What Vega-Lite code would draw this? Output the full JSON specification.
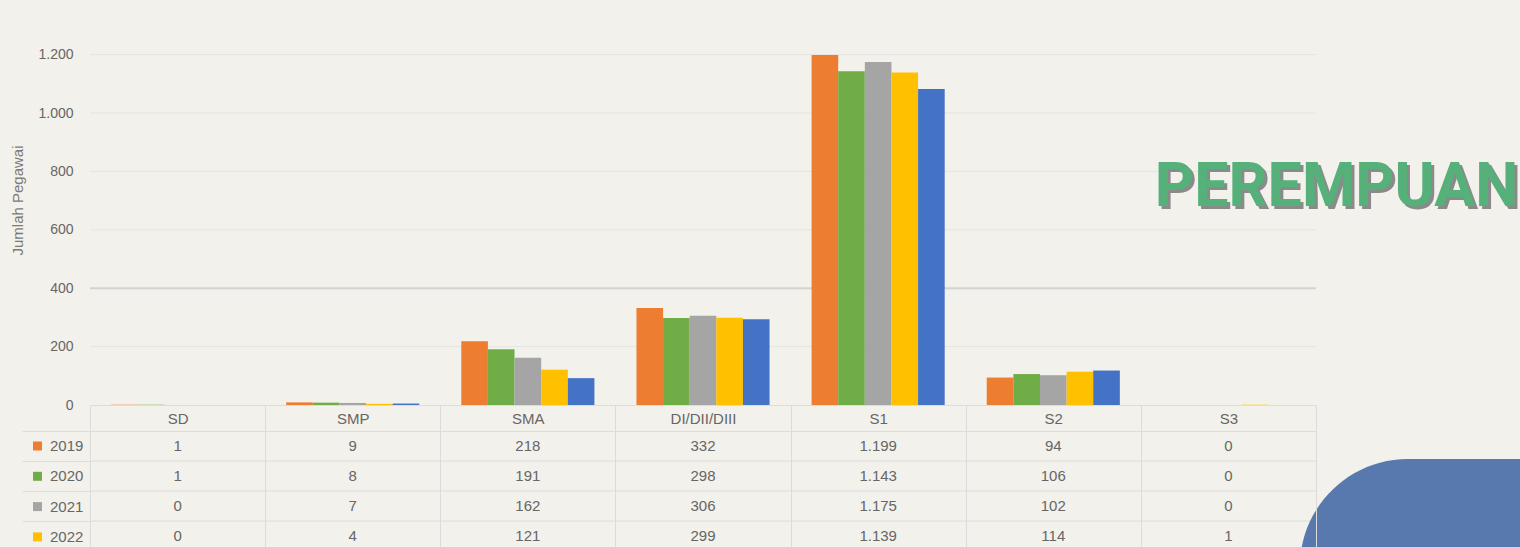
{
  "$schema": "https://vega.github.io/schema/vega-lite/v6.json",
  "background": "#f3f1eb",
  "padding": {"left": 10, "top": 5, "right": 0, "bottom": 0},
  "bounds": "flush",
  "spacing": 26,
  "config": {
    "font": "Liberation Sans",
    "view": {"stroke": null},
    "locale": {"number": {"decimal": ",", "thousands": ".", "grouping": [3], "currency": ["Rp", ""]}}
  },
  "datasets": {
    "edu": [
      {"cat": "SD", "year": "2019", "value": 1},
      {"cat": "SD", "year": "2020", "value": 1},
      {"cat": "SD", "year": "2021", "value": 0},
      {"cat": "SD", "year": "2022", "value": 0},
      {"cat": "SD", "year": "2023", "value": 0},
      {"cat": "SMP", "year": "2019", "value": 9},
      {"cat": "SMP", "year": "2020", "value": 8},
      {"cat": "SMP", "year": "2021", "value": 7},
      {"cat": "SMP", "year": "2022", "value": 4},
      {"cat": "SMP", "year": "2023", "value": 5},
      {"cat": "SMA", "year": "2019", "value": 218},
      {"cat": "SMA", "year": "2020", "value": 191},
      {"cat": "SMA", "year": "2021", "value": 162},
      {"cat": "SMA", "year": "2022", "value": 121},
      {"cat": "SMA", "year": "2023", "value": 92},
      {"cat": "DI/DII/DIII", "year": "2019", "value": 332},
      {"cat": "DI/DII/DIII", "year": "2020", "value": 298},
      {"cat": "DI/DII/DIII", "year": "2021", "value": 306},
      {"cat": "DI/DII/DIII", "year": "2022", "value": 299},
      {"cat": "DI/DII/DIII", "year": "2023", "value": 294},
      {"cat": "S1", "year": "2019", "value": 1199},
      {"cat": "S1", "year": "2020", "value": 1143},
      {"cat": "S1", "year": "2021", "value": 1175},
      {"cat": "S1", "year": "2022", "value": 1139},
      {"cat": "S1", "year": "2023", "value": 1082},
      {"cat": "S2", "year": "2019", "value": 94},
      {"cat": "S2", "year": "2020", "value": 106},
      {"cat": "S2", "year": "2021", "value": 102},
      {"cat": "S2", "year": "2022", "value": 114},
      {"cat": "S2", "year": "2023", "value": 118},
      {"cat": "S3", "year": "2019", "value": 0},
      {"cat": "S3", "year": "2020", "value": 0},
      {"cat": "S3", "year": "2021", "value": 0},
      {"cat": "S3", "year": "2022", "value": 1},
      {"cat": "S3", "year": "2023", "value": 0}
    ],
    "grid": [
      {"v": 200, "from": "SD", "to": "S3"},
      {"v": 400, "from": "SD", "to": "S3"},
      {"v": 600, "from": "SD", "to": "S3"},
      {"v": 800, "from": "SD", "to": "S3"},
      {"v": 1000, "from": "SD", "to": "S3"},
      {"v": 1200, "from": "SD", "to": "S3"}
    ],
    "hlines": [
      {"yr": "2020", "from": "SD", "to": "S3"},
      {"yr": "2021", "from": "SD", "to": "S3"},
      {"yr": "2022", "from": "SD", "to": "S3"}
    ],
    "label": [{"cat": "S3", "v": 743, "text": "PEREMPUAN"}],
    "deco": [{"cat": "S3", "r0": "2019", "r1": "2022"}]
  },
  "vconcat": [
    {
      "width": 1430,
      "height": 400,
      "layer": [
        {
          "data": {"name": "grid"},
          "mark": {"type": "rule"},
          "encoding": {
            "x": {"field": "from", "type": "nominal", "bandPosition": -0.158},
            "x2": {"field": "to", "bandPosition": 1.158},
            "y": {"field": "v", "type": "quantitative"},
            "color": {"condition": {"test": "datum.v === 400", "value": "#d3d3d1"}, "value": "#e6e4df"},
            "strokeWidth": {"condition": {"test": "datum.v === 400", "value": 2}, "value": 1}
          }
        },
        {
          "data": {"name": "edu"},
          "mark": {"type": "bar"},
          "encoding": {
            "x": {
              "field": "cat", "type": "nominal",
              "scale": {"domain": ["SD", "SMP", "SMA", "DI/DII/DIII", "S1", "S2", "S3"], "range": [0, 1226], "paddingInner": 0.24, "paddingOuter": 0.12},
              "axis": {"title": null, "labels": false, "ticks": false, "domain": true, "domainColor": "#dcdcdc", "grid": false}
            },
            "xOffset": {"field": "year", "type": "nominal", "scale": {"paddingInner": 0, "paddingOuter": 0}},
            "y": {
              "field": "value", "type": "quantitative",
              "scale": {"domain": [0, 1370], "nice": false},
              "axis": {
                "values": [0, 200, 400, 600, 800, 1000, 1200], "format": ",d",
                "grid": false, "domain": false, "ticks": false,
                "labelPadding": 17, "labelFontSize": 14, "labelColor": "#666666",
                "title": "Jumlah Pegawai", "titleFontSize": 15, "titleFontWeight": "normal", "titleColor": "#7a7a7a",
                "titleX": -73, "titleY": 195, "titleAngle": 270, "titleBaseline": "middle", "titleAlign": "center"
              }
            },
            "color": {
              "field": "year", "type": "nominal",
              "scale": {"domain": ["2019", "2020", "2021", "2022", "2023"], "range": ["#ed7d31", "#70ad47", "#a5a5a5", "#ffc000", "#4472c4"]},
              "legend": {
                "title": null, "orient": "none", "legendX": -60, "legendY": 433.5,
                "values": ["2019", "2020", "2021", "2022"], "direction": "vertical",
                "symbolType": "square", "symbolSize": 81, "symbolStrokeWidth": 0,
                "labelFontSize": 15, "labelColor": "#666666", "rowPadding": 14.3, "labelOffset": 5, "padding": 0
              }
            }
          }
        },
        {
          "data": {"name": "label"},
          "mark": {"type": "text", "font": "Roboto", "fontWeight": 700, "fontSize": 61, "align": "left", "baseline": "middle", "color": "#8a8a8a", "dx": -4, "dy": 3},
          "encoding": {
            "x": {"field": "cat", "type": "nominal", "bandPosition": 0},
            "y": {"field": "v", "type": "quantitative"},
            "text": {"field": "text"}
          }
        },
        {
          "data": {"name": "label"},
          "mark": {"type": "text", "font": "Roboto", "fontWeight": 700, "fontSize": 61, "align": "left", "baseline": "middle", "color": "#55b07a", "dx": -7, "dy": 0},
          "encoding": {
            "x": {"field": "cat", "type": "nominal", "bandPosition": 0},
            "y": {"field": "v", "type": "quantitative"},
            "text": {"field": "text"}
          }
        }
      ]
    },
    {
      "width": 1430,
      "height": 116,
      "layer": [
        {
          "data": {"name": "hlines"},
          "mark": {"type": "rule", "color": "#dcdcdc"},
          "encoding": {
            "x": {"field": "from", "type": "nominal", "bandPosition": 0},
            "x2": {"field": "to", "bandPosition": 1},
            "y": {"field": "yr", "type": "nominal", "bandPosition": 0}
          }
        },
        {
          "data": {"name": "edu"},
          "transform": [{"filter": "datum.year !== '2023'"}],
          "mark": {"type": "text", "fontSize": 15, "color": "#666666"},
          "encoding": {
            "x": {
              "field": "cat", "type": "nominal",
              "scale": {"domain": ["SD", "SMP", "SMA", "DI/DII/DIII", "S1", "S2", "S3"], "range": [0, 1226], "paddingInner": 0, "paddingOuter": 0},
              "axis": {
                "orient": "top", "title": null, "labelAngle": 0, "labelAlign": "center", "labelFontSize": 15, "labelColor": "#666666",
                "labelBaseline": "middle", "labelPadding": -13, "tickBand": "extent", "tickSize": 26,
                "tickColor": "#dcdcdc", "grid": true, "gridColor": "#dcdcdc", "domainColor": "#dcdcdc", "zindex": 1
              }
            },
            "y": {
              "field": "year", "type": "nominal",
              "scale": {"domain": ["2019", "2020", "2021", "2022"], "range": [0, 120], "paddingInner": 0, "paddingOuter": 0},
              "axis": {"title": null, "labels": false, "domain": false, "bandPosition": 0, "grid": false, "ticks": true, "tickSize": 68, "tickColor": "#dcdcdc"}
            },
            "text": {"field": "value", "type": "quantitative", "format": ",d"}
          }
        },
        {
          "data": {"name": "deco"},
          "mark": {"type": "rect", "color": "#5779ad", "cornerRadiusTopLeft": 108, "clip": true},
          "encoding": {
            "x": {"field": "cat", "type": "nominal", "bandPosition": 0.908},
            "x2": {"field": "cat", "bandPosition": 3.5},
            "y": {"field": "r0", "type": "nominal", "bandPosition": 0.93},
            "y2": {"field": "r1", "bandPosition": 6}
          }
        }
      ]
    }
  ]
}
